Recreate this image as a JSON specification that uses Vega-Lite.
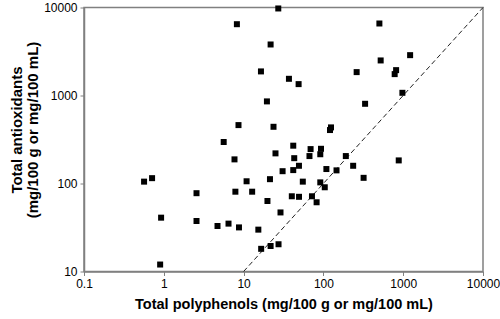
{
  "$schema": "https://vega.github.io/schema/vega-lite/v6.json",
  "width": 399,
  "height": 264,
  "autosize": "none",
  "padding": {"left": 84, "top": 7.5, "right": 17, "bottom": 47.5},
  "background": "white",
  "config": {
    "view": {"stroke": "#808080", "strokeWidth": 1.5},
    "font": "Liberation Sans"
  },
  "encoding": {
    "x": {
      "field": "x", "type": "quantitative",
      "scale": {"type": "log", "domain": [0.1, 10000], "nice": false},
      "axis": {
        "values": [0.1, 1, 10, 100, 1000, 10000], "format": "~g", "grid": false,
        "domainColor": "#808080", "domainWidth": 1.5,
        "tickColor": "#808080", "tickSize": 4, "tickWidth": 1,
        "labelFont": "Liberation Sans", "labelFontSize": 12, "labelColor": "#000",
        "labelPadding": 3, "labelFlush": false, "labelOverlap": false, "labelBound": false,
        "title": "Total polyphenols (mg/100 g or mg/100 mL)",
        "titleFont": "Liberation Sans", "titleFontSize": 14.5, "titleFontWeight": "bold", "titleColor": "#000",
        "titleBaseline": "alphabetic", "titleY": 37
      }
    },
    "y": {
      "field": "y", "type": "quantitative",
      "scale": {"type": "log", "domain": [10, 10000], "nice": false},
      "axis": {
        "values": [10, 100, 1000, 10000], "format": "~g", "grid": false,
        "domainColor": "#808080", "domainWidth": 1.5,
        "tickColor": "#808080", "tickSize": 4, "tickWidth": 1,
        "labelFont": "Liberation Sans", "labelFontSize": 12, "labelColor": "#000",
        "labelPadding": 3, "labelFlush": false, "labelOverlap": false, "labelBound": false,
        "title": ["Total antioxidants", "(mg/100 g or mg/100 mL)"],
        "titleFont": "Liberation Sans", "titleFontSize": 15, "titleFontWeight": "bold", "titleColor": "#000",
        "titleAngle": -90, "titleAlign": "center", "titleBaseline": "bottom",
        "titleLineHeight": 16, "titleX": -60, "titleY": 122
      }
    }
  },
  "layer": [
    {
      "data": {"values": [{"x": 10, "y": 10}, {"x": 10000, "y": 10000}]},
      "mark": {"type": "line", "strokeDash": [5, 3], "color": "#222222", "strokeWidth": 1},
      "encoding": {}
    },
    {
      "data": {"values": [
        {"x": 27.2, "y": 9750}, {"x": 8.24, "y": 6460}, {"x": 21.8, "y": 3800}, {"x": 16.5, "y": 1878},
        {"x": 19.6, "y": 857}, {"x": 8.63, "y": 461}, {"x": 23.7, "y": 441}, {"x": 5.63, "y": 296},
        {"x": 503, "y": 6580}, {"x": 1221, "y": 2874}, {"x": 522, "y": 2502}, {"x": 261, "y": 1844},
        {"x": 815, "y": 1942}, {"x": 782, "y": 1750}, {"x": 37.0, "y": 1548}, {"x": 48.9, "y": 1347},
        {"x": 977, "y": 1073}, {"x": 333, "y": 805}, {"x": 124.5, "y": 434}, {"x": 121, "y": 405},
        {"x": 7.69, "y": 188}, {"x": 25.1, "y": 220}, {"x": 0.566, "y": 105}, {"x": 0.713, "y": 115},
        {"x": 2.57, "y": 77.6}, {"x": 7.89, "y": 80.7}, {"x": 10.9, "y": 106}, {"x": 12.8, "y": 80.7},
        {"x": 21.4, "y": 112}, {"x": 19.9, "y": 63.3}, {"x": 29.0, "y": 46.9}, {"x": 0.925, "y": 40.9},
        {"x": 2.57, "y": 37.5}, {"x": 4.71, "y": 32.9}, {"x": 6.47, "y": 35.0}, {"x": 8.75, "y": 31.7},
        {"x": 15.3, "y": 29.9}, {"x": 16.6, "y": 18.1}, {"x": 21.8, "y": 19.5}, {"x": 27.4, "y": 20.4},
        {"x": 0.90, "y": 12.0}, {"x": 41.9, "y": 269}, {"x": 69.1, "y": 246}, {"x": 93.3, "y": 248},
        {"x": 43.1, "y": 194}, {"x": 66.9, "y": 205}, {"x": 91.4, "y": 215}, {"x": 191, "y": 205},
        {"x": 49.4, "y": 159}, {"x": 879, "y": 183}, {"x": 30.8, "y": 138}, {"x": 41.9, "y": 142},
        {"x": 109, "y": 146}, {"x": 146, "y": 141}, {"x": 236, "y": 159}, {"x": 319, "y": 116},
        {"x": 55.2, "y": 105}, {"x": 91.4, "y": 103}, {"x": 104, "y": 90.6}, {"x": 40.2, "y": 71.6},
        {"x": 49.5, "y": 70.6}, {"x": 71.9, "y": 71.6}, {"x": 82.2, "y": 61.2}
      ]},
      "mark": {"type": "square", "size": 36, "filled": true, "color": "#000000", "opacity": 1},
      "encoding": {}
    }
  ]
}
